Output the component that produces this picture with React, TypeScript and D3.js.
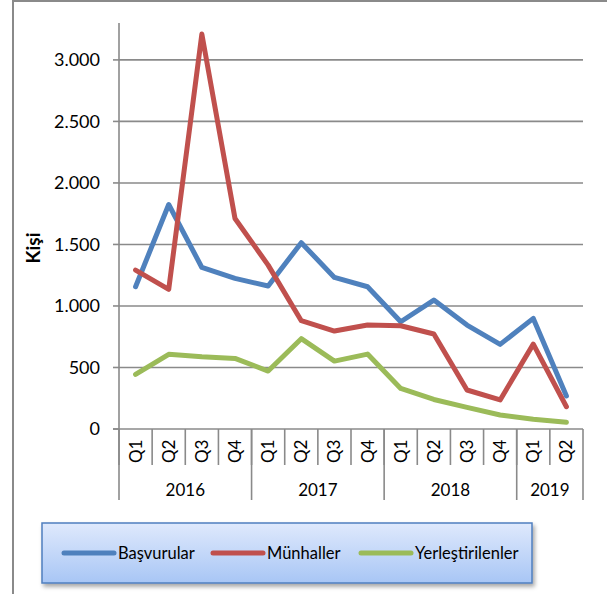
import * as d3 from "d3";

const quarters = ["Q1", "Q2", "Q3", "Q4", "Q1", "Q2", "Q3", "Q4", "Q1", "Q2", "Q3", "Q4", "Q1", "Q2"];
const years = [
  { label: "2016", count: 4 },
  { label: "2017", count: 4 },
  { label: "2018", count: 4 },
  { label: "2019", count: 2 },
];
const basvurular = [1156, 1825, 1313, 1224, 1162, 1514, 1232, 1156, 872, 1048, 845, 688, 899, 268];
const munhaller = [1292, 1135, 3210, 1711, 1332, 880, 796, 845, 839, 772, 317, 236, 690, 181];
const yerlestirilenler = [444, 607, 587, 574, 471, 734, 552, 609, 330, 240, 176, 114, 79, 54];
const yTicks = [0, 500, 1000, 1500, 2000, 2500, 3000];

const series = [
  { name: "Başvurular", values: basvurular, color: "#4f81bd" },
  { name: "Münhaller", values: munhaller, color: "#c0504d" },
  { name: "Yerleştirilenler", values: yerlestirilenler, color: "#9bbb59" },
];

const W = 607;
const H = 594;
const font = "Lato, 'Open Sans', sans-serif";
const grey = "#8a8a8a";

const App = () => {
  const idx = quarters.map((_, i) => i);
  const x = d3.scaleBand<number>().domain(idx).range([119, 583]);
  const y = d3.scaleLinear().domain([0, 3300]).range([429, 23]);
  const fmt = (v: number) => d3.format(",")(v).replace(/,/g, ".");

  const line = d3
    .line<number>()
    .x((_, i) => (x(i) ?? 0) + x.bandwidth() / 2)
    .y((d) => y(d));

  // year group boundaries
  const bounds: number[] = [0];
  years.forEach((yr) => bounds.push(bounds[bounds.length - 1] + yr.count));
  const edge = (i: number) => (i >= quarters.length ? x.range()[1] : x(i) ?? 0);

  const legendX = [64, 213, 361];

  return (
    <svg width={W} height={H} style={{ position: "absolute", left: 0, top: 0 }} fontFamily={font}>
      <defs>
        <linearGradient id="lg" x1="0" y1="0" x2="0" y2="1">
          <stop offset="0" stopColor="#dfe9fc" />
          <stop offset="1" stopColor="#a8c6f5" />
        </linearGradient>
        <filter id="sh" x="-5%" y="-20%" width="115%" height="160%">
          <feDropShadow dx="2" dy="3" stdDeviation="2" floodColor="#000" floodOpacity="0.35" />
        </filter>
      </defs>
      <rect x={0} y={0} width={W} height={H} fill="#fff" />
      {/* outer frame */}
      <line x1={13} y1={0} x2={13} y2={H} stroke={grey} strokeWidth={2} />
      <line x1={13} y1={1} x2={W} y2={1} stroke={grey} strokeWidth={2} />

      {/* gridlines + y ticks */}
      {yTicks.map((t) => (
        <g key={t}>
          {t > 0 && <line x1={119} x2={583} y1={y(t)} y2={y(t)} stroke={grey} strokeWidth={1.6} />}
          <line x1={113} x2={119} y1={y(t)} y2={y(t)} stroke={grey} strokeWidth={1.6} />
          <text x={100} y={y(t)} dy="0.36em" textAnchor="end" fontSize={18} fill="#000">
            {fmt(t)}
          </text>
        </g>
      ))}
      <line x1={119} x2={119} y1={23} y2={429} stroke={grey} strokeWidth={1.6} />
      <line x1={113} x2={583} y1={429} y2={429} stroke={grey} strokeWidth={1.6} />

      <text
        transform={`translate(40,248) rotate(-90)`}
        textAnchor="middle"
        fontSize={19}
        fontWeight="bold"
        fill="#000"
      >
        Kişi
      </text>

      {/* quarter ticks and labels */}
      {idx.map((i) => (
        <g key={i}>
          <line x1={x(i)} x2={x(i)} y1={429} y2={465} stroke={grey} strokeWidth={1.6} />
          <text
            transform={`translate(${(x(i) ?? 0) + x.bandwidth() / 2 + 6},463) rotate(-90)`}
            fontSize={17}
            fill="#000"
          >
            {quarters[i]}
          </text>
        </g>
      ))}
      {bounds.map((b) => (
        <line key={b} x1={edge(b)} x2={edge(b)} y1={429} y2={500} stroke={grey} strokeWidth={1.6} />
      ))}
      {years.map((yr, k) => (
        <text
          key={yr.label}
          x={(edge(bounds[k]) + edge(bounds[k + 1])) / 2}
          y={496}
          textAnchor="middle"
          fontSize={17}
          fill="#000"
        >
          {yr.label}
        </text>
      ))}

      {/* series */}
      {series.map((s) => (
        <path
          key={s.name}
          d={line(s.values) ?? ""}
          fill="none"
          stroke={s.color}
          strokeWidth={5}
          strokeLinejoin="round"
          strokeLinecap="round"
        />
      ))}

      {/* legend */}
      <rect x={42} y={523} width={490} height={60} fill="url(#lg)" stroke="#4f7fbf" strokeWidth={1.5} filter="url(#sh)" />
      {series.map((s, k) => (
        <g key={s.name}>
          <line
            x1={legendX[k]}
            x2={legendX[k] + 50}
            y1={553}
            y2={553}
            stroke={s.color}
            strokeWidth={5}
            strokeLinecap="round"
          />
          <text x={legendX[k] + 54} y={553} dy="0.36em" fontSize={16.5} fill="#000">
            {s.name}
          </text>
        </g>
      ))}
    </svg>
  );
};

export default App;
